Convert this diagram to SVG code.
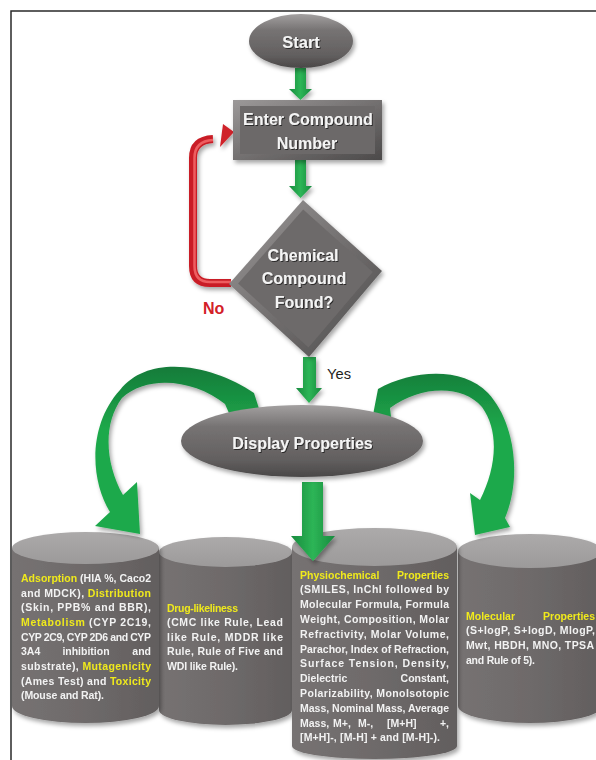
<svg xmlns="http://www.w3.org/2000/svg" width="596" height="760" viewBox="0 0 596 760">
<style>
.t{font-family:"Liberation Sans",Arial,sans-serif;font-weight:bold;fill:#f4f4f4}
.ct{font-family:"Liberation Sans",Arial,sans-serif;font-weight:bold;font-size:10.5px;fill:#f2f2f2}
.y{fill:#f0ea1c}
.cbody{fill:url(#cylBody)}
.ctop{fill:url(#cylTop)}
.frame{stroke:#2a2a2a;stroke-width:1.5;fill:none}
</style>
<defs>
<filter id="sh" x="-20%" y="-20%" width="140%" height="150%"><feDropShadow dx="2" dy="3" stdDeviation="2" flood-color="#000" flood-opacity="0.35"/></filter>
<filter id="ts" x="-10%" y="-30%" width="120%" height="160%"><feDropShadow dx="1" dy="1" stdDeviation="0.6" flood-color="#000" flood-opacity="0.6"/></filter>
<linearGradient id="gGrey" x1="0" y1="0" x2="0" y2="1"><stop offset="0" stop-color="#a3a0a0"/><stop offset="0.3" stop-color="#767373"/><stop offset="0.75" stop-color="#636060"/><stop offset="1" stop-color="#4a4848"/></linearGradient>
<linearGradient id="gBevel" x1="0" y1="0" x2="1" y2="1"><stop offset="0" stop-color="#9c9999"/><stop offset="0.5" stop-color="#737070"/><stop offset="1" stop-color="#4c4a4a"/></linearGradient>
<linearGradient id="cylBody" x1="0" y1="0" x2="1" y2="0"><stop offset="0" stop-color="#767272"/><stop offset="0.5" stop-color="#6e6a6a"/><stop offset="1" stop-color="#625e5e"/></linearGradient>
<linearGradient id="cylTop" x1="0" y1="0" x2="0" y2="1"><stop offset="0" stop-color="#acaaaa"/><stop offset="1" stop-color="#9c9a9a"/></linearGradient>
<linearGradient id="gArrow" x1="0" y1="0" x2="1" y2="0"><stop offset="0" stop-color="#178b3e"/><stop offset="0.5" stop-color="#2db556"/><stop offset="1" stop-color="#178b3e"/></linearGradient>
<linearGradient id="gCurve" gradientUnits="userSpaceOnUse" x1="0" y1="365" x2="0" y2="430"><stop offset="0" stop-color="#127a39"/><stop offset="1" stop-color="#1fa94b"/></linearGradient>
</defs>

<rect x="0" y="0" width="596" height="760" fill="#ffffff"/>
<path class="frame" d="M11,760 L11,11 L596,11"/>

<g id="node-cyl-drug" filter="url(#sh)">
<path class="cbody" d="M159,552 L159,710 A66.5,15 0 0 0 292,710 L292,552 Z"/>
<ellipse class="ctop" cx="225.5" cy="552" rx="66.5" ry="15"/>
<text class="ct y" x="167" y="611.5" textLength="71" lengthAdjust="spacing">Drug-likeliness</text>
<text class="ct" x="167" y="626" textLength="116" lengthAdjust="spacing">(CMC like Rule, Lead</text>
<text class="ct" x="167" y="640.5" textLength="116" lengthAdjust="spacing">like Rule, MDDR like</text>
<text class="ct" x="167" y="655" textLength="116" lengthAdjust="spacing">Rule, Rule of Five and</text>
<text class="ct" x="167" y="669.5" textLength="71" lengthAdjust="spacing">WDI like Rule).</text>
</g>

<g id="node-cyl-molecular" filter="url(#sh)">
<path class="cbody" d="M458,551 L458,706 A72,17 0 0 0 602,706 L602,551 Z"/>
<ellipse class="ctop" cx="530" cy="551" rx="72" ry="17"/>
<text class="ct y" x="466" y="619.5">Molecular</text>
<text class="ct y" x="595" y="619.5" text-anchor="end">Properties</text>
<text class="ct" x="466" y="634" textLength="129" lengthAdjust="spacing">(S+logP, S+logD, MlogP,</text>
<text class="ct" x="466" y="648.5" textLength="128" lengthAdjust="spacing">Mwt, HBDH, MNO, TPSA</text>
<text class="ct" x="466" y="663.5" textLength="69" lengthAdjust="spacing">and Rule of 5).</text>
</g>

<g id="node-cyl-admet" filter="url(#sh)">
<path class="cbody" d="M12,548 L12,706 A73.5,17 0 0 0 159,706 L159,548 Z"/>
<ellipse class="ctop" cx="85.5" cy="548" rx="73.5" ry="16"/>
<text class="ct" x="21" y="582" textLength="130" lengthAdjust="spacing"><tspan class="y">Adsorption</tspan> (HIA %, Caco2</text>
<text class="ct" x="21" y="596.7" textLength="130" lengthAdjust="spacing">and MDCK), <tspan class="y">Distribution</tspan></text>
<text class="ct" x="21" y="611.3" textLength="130" lengthAdjust="spacing">(Skin, PPB% and BBR),</text>
<text class="ct" x="21" y="626" textLength="130" lengthAdjust="spacing"><tspan class="y">Metabolism</tspan> (CYP 2C19,</text>
<text class="ct" x="21" y="640.6" textLength="130" lengthAdjust="spacing">CYP 2C9, CYP 2D6 and CYP</text>
<text class="ct" x="21" y="655.3">3A4</text>
<text class="ct" x="86" y="655.3" text-anchor="middle">inhibition</text>
<text class="ct" x="151" y="655.3" text-anchor="end">and</text>
<text class="ct" x="21" y="670" textLength="130" lengthAdjust="spacing">substrate), <tspan class="y">Mutagenicity</tspan></text>
<text class="ct" x="21" y="684.6" textLength="130" lengthAdjust="spacing">(Ames Test) and <tspan class="y">Toxicity</tspan></text>
<text class="ct" x="21" y="699.3" textLength="83" lengthAdjust="spacing">(Mouse and Rat).</text>
</g>

<g id="node-cyl-physchem" filter="url(#sh)">
<path class="cbody" d="M292,547 L292,746 A82.5,13 0 0 0 457,746 L457,547 Z"/>
<ellipse class="ctop" cx="374.5" cy="547" rx="82.5" ry="19"/>
<text class="ct y" x="300" y="578.5">Physiochemical</text>
<text class="ct y" x="449" y="578.5" text-anchor="end">Properties</text>
<text class="ct" x="300" y="593.3" textLength="149" lengthAdjust="spacing">(SMILES, InChI followed by</text>
<text class="ct" x="300" y="608.1" textLength="149" lengthAdjust="spacing">Molecular Formula, Formula</text>
<text class="ct" x="300" y="622.9" textLength="149" lengthAdjust="spacing">Weight, Composition, Molar</text>
<text class="ct" x="300" y="637.7" textLength="149" lengthAdjust="spacing">Refractivity, Molar Volume,</text>
<text class="ct" x="300" y="652.5" textLength="149" lengthAdjust="spacing">Parachor, Index of Refraction,</text>
<text class="ct" x="300" y="667.3" textLength="149" lengthAdjust="spacing">Surface Tension, Density,</text>
<text class="ct" x="300" y="682.1">Dielectric</text>
<text class="ct" x="449" y="682.1" text-anchor="end">Constant,</text>
<text class="ct" x="300" y="696.9" textLength="149" lengthAdjust="spacing">Polarizability, MonoIsotopic</text>
<text class="ct" x="300" y="711.7" textLength="149" lengthAdjust="spacing">Mass, Nominal Mass, Average</text>
<text class="ct" x="300" y="726.5">Mass,</text>
<text class="ct" x="333" y="726.5">M+,</text>
<text class="ct" x="358" y="726.5">M-,</text>
<text class="ct" x="387" y="726.5">[M+H]</text>
<text class="ct" x="449" y="726.5" text-anchor="end">+,</text>
<text class="ct" x="300" y="741.3" textLength="140" lengthAdjust="spacing">[M+H]-, [M-H] + and [M-H]-).</text>
</g>

<g id="connectors">
<g filter="url(#sh)">
<path fill="url(#gCurve)" d="M262,418 L254,393 C215,366 150,352 120,390 C88,425 90,480 110,512 L95,526 L140,534 L137,482 L123,495 C106,465 102,425 122,398 C148,374 195,380 225,404 L232,420 Z"/>
<path fill="url(#gCurve)" d="M372,420 L378,389 C412,370 462,366 488,393 C515,422 522,478 505,518 L510,527 L475,535 L470,493 L480,500 C496,468 500,432 482,407 C462,384 420,386 390,408 L392,425 Z"/>
<polygon fill="url(#gArrow)" points="295,68 306,68 306,89 312,89 300.5,100 289,89 295,89"/>
<polygon fill="url(#gArrow)" points="295,160 306,160 306,186 312,186 300.5,198 289,186 295,186"/>
<polygon fill="url(#gArrow)" points="303,357 316,357 316,388 322,388 309,403 296,388 303,388"/>
<polygon fill="url(#gArrow)" points="302,482 323,482 323,536 335,536 313,561 291,536 302,536"/>
</g>
<g filter="url(#sh)">
<path d="M231,283 L210,283 Q193,283 193,266 L193,158 Q193,140 213,139" fill="none" stroke="#c91f26" stroke-width="8"/>
<path d="M231,282 L210,282 Q194.5,282 194.5,266 L194.5,158 Q194.5,141 213,140" fill="none" stroke="#ee5d60" stroke-width="2.5"/>
<polygon points="223,124 234,132 220,147" fill="#cf2229"/>
</g>
</g>

<g id="node-start" filter="url(#sh)">
<ellipse cx="301" cy="41" rx="52" ry="27" fill="url(#gGrey)"/>
<text class="t" x="301" y="48" font-size="16.5" text-anchor="middle" filter="url(#ts)">Start</text>
</g>

<g id="node-enter" filter="url(#sh)">
<rect x="233" y="100" width="149" height="60" fill="url(#gBevel)"/>
<rect x="240" y="106" width="135" height="48" fill="#6c6969"/>
<text class="t" x="308" y="125" font-size="16" text-anchor="middle" filter="url(#ts)">Enter Compound</text>
<text class="t" x="307" y="149" font-size="16" text-anchor="middle" filter="url(#ts)">Number</text>
</g>

<g id="node-decision" filter="url(#sh)">
<polygon points="303,200 382,271 309,357 229,284" fill="url(#gBevel)"/>
<polygon points="303.2,209.5 372.8,272 308.5,347.6 238.1,283.4" fill="#6d6a6a"/>
<text class="t" x="303" y="261" font-size="16" text-anchor="middle" filter="url(#ts)">Chemical</text>
<text class="t" x="304" y="284" font-size="16" text-anchor="middle" filter="url(#ts)">Compound</text>
<text class="t" x="304" y="308" font-size="16" text-anchor="middle" filter="url(#ts)">Found?</text>
</g>

<g id="node-display" filter="url(#sh)">
<ellipse cx="302" cy="441" rx="121" ry="36" fill="url(#gGrey)"/>
<text class="t" x="302.5" y="449" font-size="16" text-anchor="middle" filter="url(#ts)">Display Properties</text>
</g>

<g id="labels">
<text x="327" y="379" font-family="Liberation Sans, Arial, sans-serif" font-size="15" fill="#1e1e1e" textLength="24" lengthAdjust="spacingAndGlyphs">Yes</text>
<text x="203" y="314" font-family="Liberation Sans, Arial, sans-serif" font-size="16" font-weight="bold" fill="#d32027">No</text>
</g>
</svg>
